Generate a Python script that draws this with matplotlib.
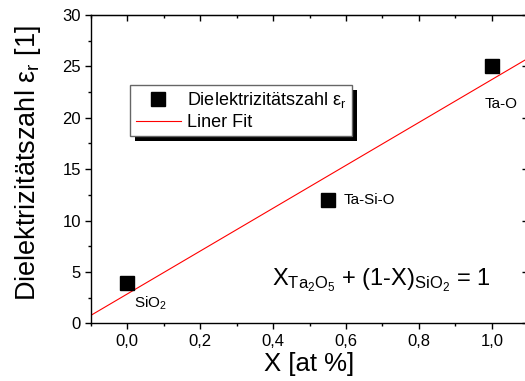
import numpy as np
import matplotlib
matplotlib.use("Agg")
from matplotlib import pyplot as plt
from matplotlib.ticker import MultipleLocator, FuncFormatter
from matplotlib.patches import Rectangle

plt.rcParams['font.family'] = ['Liberation Sans', 'DejaVu Sans']
plt.rcParams['mathtext.fontset'] = 'custom'
plt.rcParams['mathtext.rm'] = 'Liberation Sans'
plt.rcParams['mathtext.it'] = 'Liberation Sans:italic'
plt.rcParams['mathtext.bf'] = 'Liberation Sans:bold'

# data
x_frac = [0.0, 0.55, 1.0]
eps_r = [3.9, 12.0, 25.0]
point_names = ['SiO$_\\mathregular{2}$', 'Ta-Si-O', 'Ta-O']

fig = plt.figure(figsize=(5.25, 3.81), dpi=100)
ax = fig.add_axes([0.1728, 0.1514, 0.8335, 0.8092])

xlim = (-0.1, 1.1)
ax.set_xlim(*xlim)
ax.set_ylim(0, 30)

# linear fit through the measured points
k, d = np.polyfit(x_frac, eps_r, 1)
xf = np.array(xlim)
pts, = ax.plot(x_frac, eps_r, 's', color='black', ms=9.5, ls='none',
               label='Dielektrizitätszahl ε$_\\mathregular{r}$', zorder=3)
fit, = ax.plot(xf, k * xf + d, color='red', lw=0.8, label='Liner Fit', zorder=2)

# point labels
ax.text(0.02, 1.5, point_names[0], fontsize=11, va='baseline')
ax.text(0.594, 12.0, point_names[1], fontsize=11, va='center')
ax.text(0.98, 21.0, point_names[2], fontsize=11, va='baseline')

ax.text(0.398, 3.73,
        'X$_\\mathregular{Ta_2O_5}$ + (1-X)$_\\mathregular{SiO_2}$ = 1',
        fontsize=17, va='baseline')

# ticks
ax.xaxis.set_major_locator(MultipleLocator(0.2))
ax.xaxis.set_minor_locator(MultipleLocator(0.1))
ax.yaxis.set_major_locator(MultipleLocator(5))
ax.yaxis.set_minor_locator(MultipleLocator(2.5))
ax.xaxis.set_major_formatter(FuncFormatter(lambda v, p: ('%.1f' % v).replace('.', ',')))
ax.yaxis.set_major_formatter(FuncFormatter(lambda v, p: '%d' % round(v)))
ax.tick_params(which='both', direction='out', top=False, right=False,
               labelsize=12, width=1)
ax.tick_params(which='major', length=4, pad=3)
ax.tick_params(which='minor', length=2.5)
ax.tick_params(axis='x', which='major', pad=4)

top = ax.secondary_xaxis('top')
top.xaxis.set_major_locator(MultipleLocator(0.2))
top.xaxis.set_minor_locator(MultipleLocator(0.1))
top.tick_params(which='both', direction='in', labeltop=False, width=1)
top.tick_params(which='major', length=4.5)
top.tick_params(which='minor', length=2.5)

right = ax.secondary_yaxis('right')
right.yaxis.set_major_locator(MultipleLocator(5))
right.yaxis.set_minor_locator(MultipleLocator(2.5))
right.tick_params(which='both', direction='in', labelright=False, width=1)
right.tick_params(which='major', length=4.5)
right.tick_params(which='minor', length=2.5)

for sp in ax.spines.values():
    sp.set_linewidth(1)

ax.set_xlabel('X [at %]', fontsize=18.5, labelpad=2)
ax.set_ylabel('Dielektrizitätszahl ε$_\\mathregular{r}$ [1]', fontsize=19.5)
ax.yaxis.set_label_coords(-0.108, 0.518)

leg = ax.legend(handles=[pts, fit], loc='upper left', bbox_to_anchor=(0.090, 0.773),
                borderaxespad=0, fontsize=13, fancybox=False, framealpha=1,
                edgecolor='#666666', borderpad=0.3, labelspacing=0.2,
                handlelength=2.5, handletextpad=0.35)
leg.get_frame().set_linewidth(1)
leg.set_zorder(5)

# black drop shadow like the original legend box
fig.canvas.draw()
bb = leg.get_window_extent()
shadow = Rectangle((bb.x0 + 5, bb.y0 - 5), bb.width, bb.height, transform=None,
                   facecolor='black', edgecolor='none', zorder=4.9, clip_on=False)
ax.add_artist(shadow)

plt.savefig('out.png', dpi=100)
